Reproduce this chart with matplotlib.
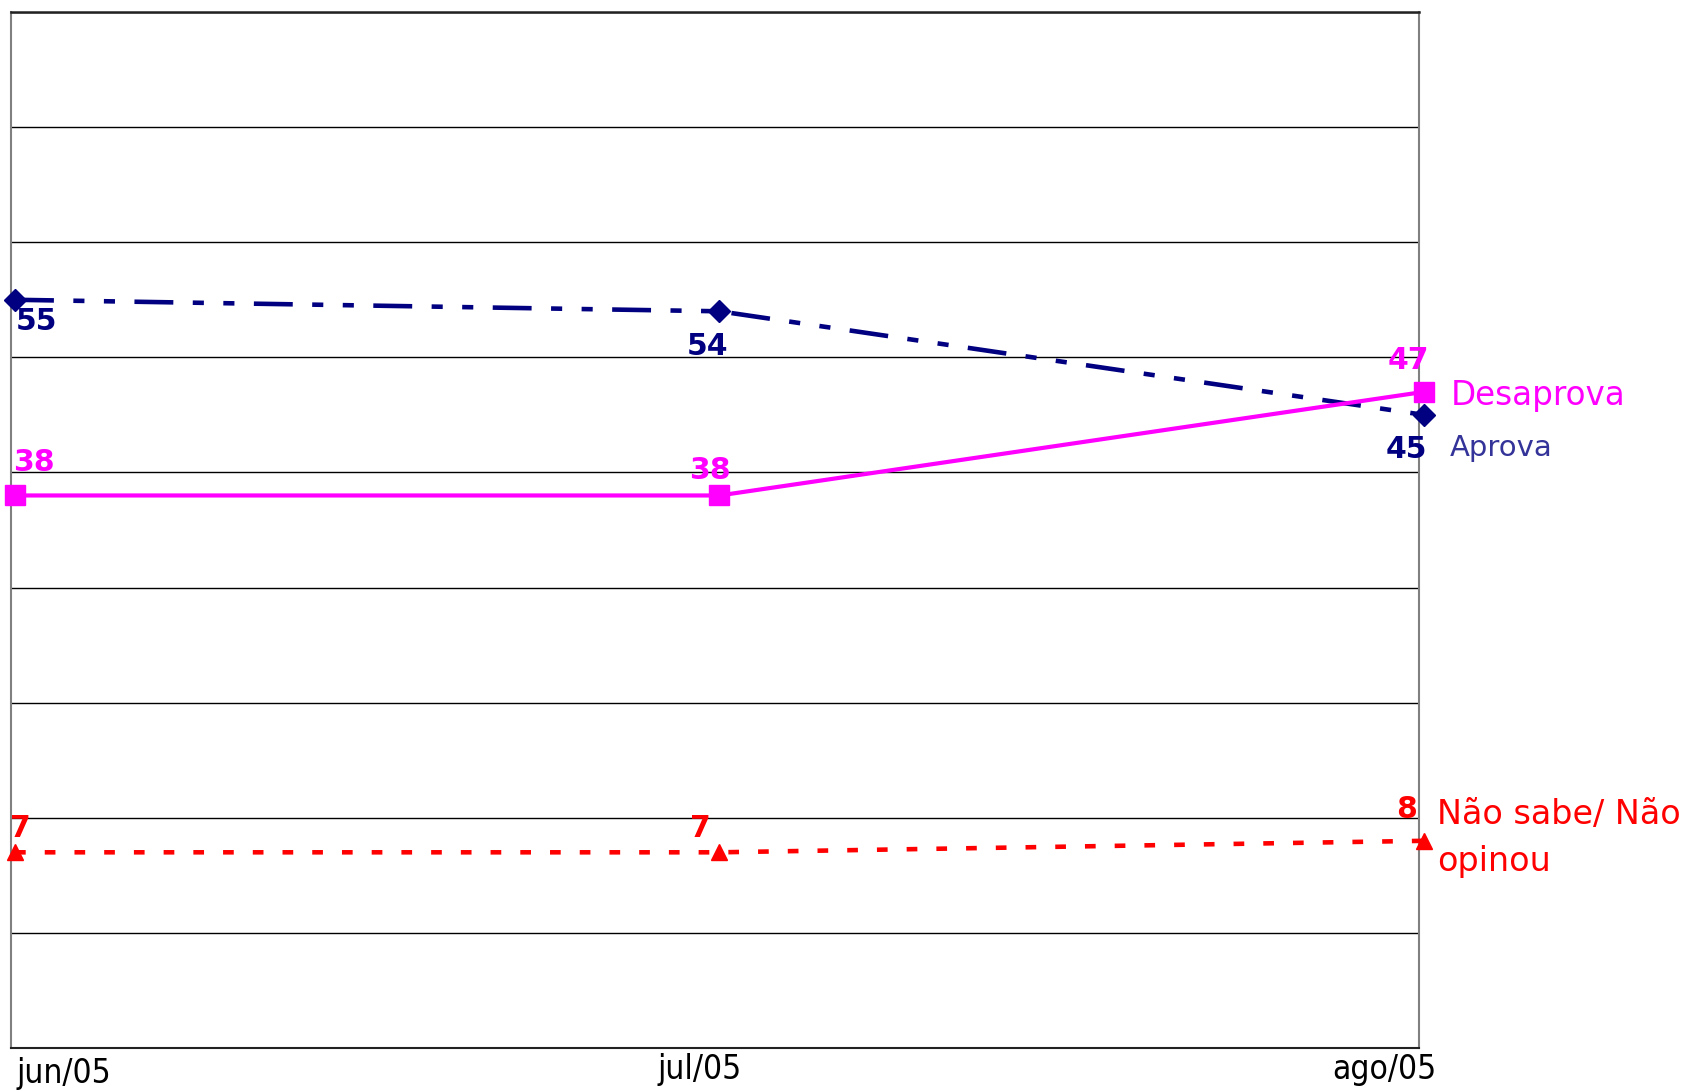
import matplotlib
matplotlib.use("Agg")
import matplotlib.pyplot as plt

months = ["jun/05", "jul/05", "ago/05"]
aprova = [55, 54, 45]
desaprova = [38, 38, 47]
nao_sabe = [7, 7, 8]
series_names = ["Aprova", "Desaprova", "Não sabe/ Não\nopinou"]

NAVY = "#000080"
MAG = "#FF00FF"
RED = "#FF0000"

plt.rcParams['lines.scale_dashes'] = False
plt.rcParams['font.family'] = ['DejaVu Sans']

fig = plt.figure(figsize=(16.85, 10.91), dpi=100)
ax = fig.add_axes([11/1685, 1 - 1048/1091, (1419 - 11)/1685, (1048 - 12)/1091])

x = list(range(len(months)))
ax.set_xlim(-0.0057, 1.993)
ax.set_ylim(-10, 80)
ax.set_yticks(range(-10, 81, 10))
ax.yaxis.grid(True, color="black", linewidth=1.0)
ax.set_axisbelow(True)
ax.tick_params(left=False, bottom=False, labelleft=False, labelbottom=False)
ax.set_xticks([])
for s in ["left", "right"]:
    ax.spines[s].set_color("#808080")
    ax.spines[s].set_linewidth(1.5)
ax.spines["top"].set_color("#222222")
ax.spines["top"].set_linewidth(1.8)
ax.spines["bottom"].set_color("#222222")
ax.spines["bottom"].set_linewidth(1.5)

la, = ax.plot(x, aprova, color=NAVY, linewidth=3.3, marker="D", markersize=11,
              clip_on=False, zorder=4)
la.set_dashes([28, 14, 8, 14, 8, 14])
ld, = ax.plot(x, desaprova, color=MAG, linewidth=3.0, marker="s", markersize=14,
              clip_on=False, zorder=5)
ln, = ax.plot(x, nao_sabe, color=RED, linewidth=3.3, marker="^", markersize=12,
              clip_on=False, zorder=4)
ln.set_dashes([7.7, 13.7])

lab_kw = dict(textcoords="offset pixels", ha="center", va="center",
              fontsize=21.5, fontweight="bold", annotation_clip=False)
# offsets in pixels (dx, dy) relative to data points
off_a = [(21, -22), (-12, -35), (-18, -35)]
off_d = [(19, 33), (-10, 25), (-16, 31)]
off_n = [(5, 24), (-19, 24), (-17, 31)]
for i in x:
    ax.annotate(str(aprova[i]), (x[i], aprova[i]), xytext=off_a[i], color=NAVY, **lab_kw)
    ax.annotate(str(desaprova[i]), (x[i], desaprova[i]), xytext=off_d[i], color=MAG, **lab_kw)
    ax.annotate(str(nao_sabe[i]), (x[i], nao_sabe[i]), xytext=off_n[i], color=RED, **lab_kw)

name_kw = dict(textcoords="offset pixels", ha="left", va="center", annotation_clip=False)
ax.annotate(series_names[1], (x[2], desaprova[2]), xytext=(27, -4), color=MAG,
            fontsize=23.5, **name_kw)
ax.annotate(series_names[0], (x[2], aprova[2]), xytext=(26, -33), color="#333399",
            fontsize=21, **name_kw)
ax.annotate(series_names[2], (x[2], nao_sabe[2]), xytext=(13, 3), color=RED,
            fontsize=24, linespacing=1.55, textcoords="offset pixels", ha="left",
            va="center", annotation_clip=False)

# month labels
tick_kw = dict(family=["Liberation Sans Narrow", "DejaVu Sans"], fontstretch="condensed",
               fontsize=24, va="center", annotation_clip=False, textcoords="offset pixels",
               xycoords=("data", "axes fraction"))
ax.annotate(months[0], (x[0], 0), xytext=(1, -25), ha="left", **tick_kw)
ax.annotate(months[1], (x[1], 0), xytext=(-20, -21), ha="center", **tick_kw)
ax.annotate(months[2], (x[2], 0), xytext=(-40, -21), ha="center", **tick_kw)

fig.savefig("out.png", dpi=100)
